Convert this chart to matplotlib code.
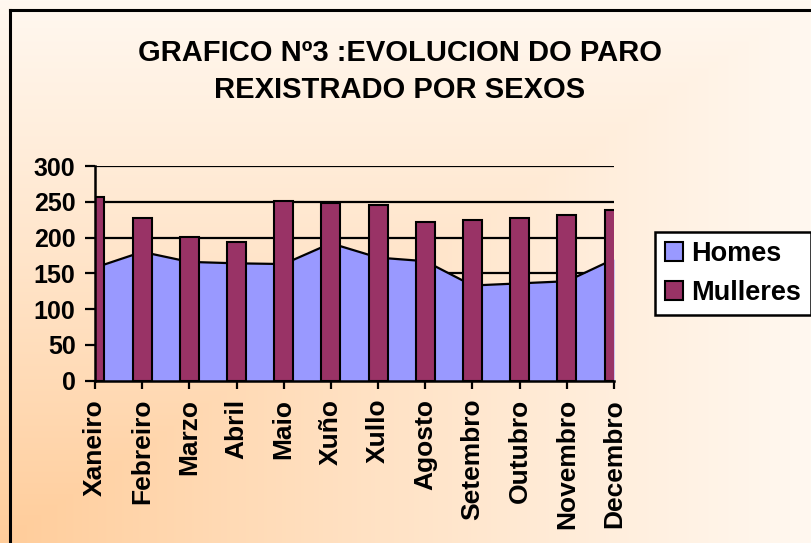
import numpy as np
import matplotlib
matplotlib.use("Agg")
import matplotlib.pyplot as plt
import matplotlib.patches as mpatches
from matplotlib.lines import Line2D

plt.rcParams['font.family'] = ['Liberation Sans', 'DejaVu Sans']

months = ["Xaneiro", "Febreiro", "Marzo", "Abril", "Maio", "Xuño", "Xullo",
          "Agosto", "Setembro", "Outubro", "Novembro", "Decembro"]
homes = [158, 180, 166, 164, 163, 192, 172, 167, 133, 136, 139, 170]
mulleres = [257, 227, 201, 194, 251, 248, 245, 222, 224, 227, 231, 239]
yticks = [0, 50, 100, 150, 200, 250, 300]

W, H = 811, 543
fig = plt.figure(figsize=(W / 100, H / 100), dpi=100)

# gradient background: peach at the bottom-left corner fading to near white
bg = fig.add_axes([0, 0, 1, 1], zorder=-10)
xx, yy = np.meshgrid(np.linspace(0, 1, W), np.linspace(0, 1, H))
t = np.clip(np.maximum(xx, yy) ** 0.9, 0, 1)[..., None]
c0 = np.array([255, 204, 153]) / 255.0
c1 = np.array([255, 248, 240]) / 255.0
img = c0 * (1 - t) + c1 * t
bg.imshow(img, origin="lower", extent=[0, 1, 0, 1], aspect="auto")
bg.set_axis_off()

# chart-area border (only top and left fall inside the picture)
fig.add_artist(Line2D([9.5 / W, 9.5 / W], [0, 1 - 10 / H], color="black",
                      lw=2.2, transform=fig.transFigure))
fig.add_artist(Line2D([9.5 / W, 1], [1 - 10 / H, 1 - 10 / H], color="black",
                      lw=2.2, transform=fig.transFigure))

ax = fig.add_axes([95 / W, 1 - 380.7 / H, (614 - 95) / W, (380.7 - 166) / H])
ax.set_facecolor("none")
x = np.arange(len(months))

ax.fill_between(x, homes, 0, color="#9999FF", lw=0, zorder=2)
ax.plot(x, homes, color="black", lw=1.6, zorder=2.2)
ax.bar(x, mulleres, width=0.4, color="#993366", edgecolor="black",
       lw=1.5, zorder=3)

ax.set_xlim(0, 11)
ax.set_ylim(0, 300)
ax.set_yticks(yticks)
ax.set_xticks(x)
ax.set_xticklabels(months, rotation=90, fontsize=19, fontweight="bold")
ax.set_yticklabels([str(v) for v in yticks], fontsize=18, fontweight="bold")
ax.yaxis.grid(True, color="black", lw=1.6, zorder=1)
ax.set_axisbelow(True)
for s in ["top", "right"]:
    ax.spines[s].set_visible(False)
for s in ["left", "bottom"]:
    ax.spines[s].set_linewidth(1.8)
    ax.spines[s].set_zorder(5)
ax.tick_params(axis="y", length=7, width=1.6, pad=7)
ax.tick_params(axis="x", length=6, width=1.6, pad=7)

fig.text(400 / W, 1 - 53 / H, "GRAFICO Nº3 :EVOLUCION DO PARO",
         ha="center", va="center", fontsize=21, fontweight="bold")
fig.text(400 / W, 1 - 90 / H, "REXISTRADO POR SEXOS",
         ha="center", va="center", fontsize=21, fontweight="bold")

handles = [mpatches.Patch(facecolor="#9999FF", edgecolor="black", lw=1.5),
           mpatches.Patch(facecolor="#993366", edgecolor="black", lw=1.5)]
leg = fig.legend(handles, ["Homes", "Mulleres"], loc="center",
                 bbox_to_anchor=(733 / W, 1 - 273.5 / H),
                 prop={"size": 19.5, "weight": "bold"},
                 handlelength=0.7, handleheight=0.7, handletextpad=0.3,
                 labelspacing=0.45, borderpad=0.35, borderaxespad=0,
                 fancybox=False, framealpha=1, edgecolor="black")
leg.get_frame().set_linewidth(1.8)

fig.savefig("out.png", dpi=100)
